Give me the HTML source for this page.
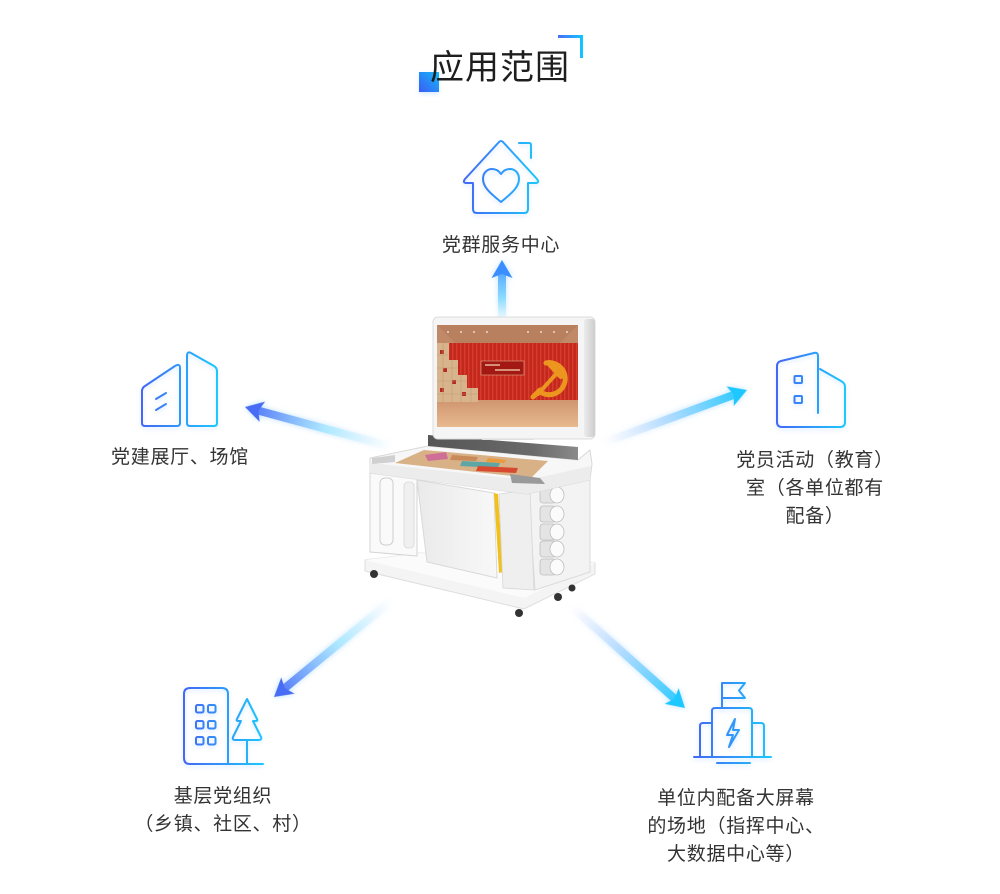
<!DOCTYPE html>
<html><head><meta charset="utf-8">
<style>
html,body{margin:0;padding:0;background:#fff;}
#wrap{position:relative;width:1000px;height:894px;overflow:hidden;background:#fff;}
svg{position:absolute;left:0;top:0;}
.t{position:absolute;font-family:"Liberation Sans","Noto Sans CJK SC",sans-serif;color:#333;font-size:19px;line-height:28px;letter-spacing:0.7px;text-align:center;width:300px;white-space:nowrap;}
.title{position:absolute;left:0;width:1000px;top:51px;text-align:center;font-family:"Liberation Sans","Noto Sans CJK SC",sans-serif;font-size:34px;line-height:34px;color:#1e1e1e;letter-spacing:1px;}
</style></head>
<body><div id="wrap">
<svg width="1000" height="894" viewBox="0 0 1000 894" xmlns="http://www.w3.org/2000/svg">
<defs>
  <linearGradient id="sq" x1="0" y1="1" x2="1" y2="0"><stop offset="0" stop-color="#3a5cf6"/><stop offset="1" stop-color="#16b8f8"/></linearGradient>
  <linearGradient id="br" gradientUnits="userSpaceOnUse" x1="558" y1="0" x2="583" y2="0"><stop offset="0" stop-color="#4a6cf7"/><stop offset="1" stop-color="#12c8ff"/></linearGradient>
  <linearGradient id="gH" gradientUnits="userSpaceOnUse" x1="463" y1="0" x2="539" y2="0"><stop offset="0" stop-color="#4466f6"/><stop offset="1" stop-color="#1cc8fc"/></linearGradient>
  <linearGradient id="gL" gradientUnits="userSpaceOnUse" x1="142" y1="0" x2="217" y2="0"><stop offset="0" stop-color="#4466f6"/><stop offset="1" stop-color="#1cc8fc"/></linearGradient>
  <linearGradient id="gR" gradientUnits="userSpaceOnUse" x1="777" y1="0" x2="845" y2="0"><stop offset="0" stop-color="#4466f6"/><stop offset="1" stop-color="#1cc8fc"/></linearGradient>
  <linearGradient id="gBL" gradientUnits="userSpaceOnUse" x1="184" y1="0" x2="263" y2="0"><stop offset="0" stop-color="#4466f6"/><stop offset="1" stop-color="#1cc8fc"/></linearGradient>
  <linearGradient id="gBR" gradientUnits="userSpaceOnUse" x1="694" y1="0" x2="771" y2="0"><stop offset="0" stop-color="#4466f6"/><stop offset="1" stop-color="#1cc8fc"/></linearGradient>

  <linearGradient id="aUp" gradientUnits="userSpaceOnUse" x1="-64" y1="0" x2="0" y2="0"><stop offset="0" stop-color="#c8f0ff" stop-opacity="0"/><stop offset="0.4" stop-color="#7fd8ff" stop-opacity="0.85"/><stop offset="1" stop-color="#3a8eff"/></linearGradient>
  <linearGradient id="aB" gradientUnits="userSpaceOnUse" x1="-152" y1="0" x2="0" y2="0"><stop offset="0" stop-color="#d8f6ff" stop-opacity="0"/><stop offset="0.45" stop-color="#a6e8ff" stop-opacity="0.85"/><stop offset="1" stop-color="#4a6cf7"/></linearGradient>
  <linearGradient id="aC" gradientUnits="userSpaceOnUse" x1="-152" y1="0" x2="0" y2="0"><stop offset="0" stop-color="#dfe4ff" stop-opacity="0"/><stop offset="0.45" stop-color="#a8d8ff" stop-opacity="0.85"/><stop offset="1" stop-color="#1ec8ff"/></linearGradient>

  <filter id="glow" x="-50%" y="-50%" width="200%" height="200%"><feDropShadow dx="0" dy="0" stdDeviation="3" flood-color="#5ab4ff" flood-opacity="0.4"/></filter>
  <filter id="ish" x="-30%" y="-30%" width="160%" height="160%"><feDropShadow dx="0" dy="2" stdDeviation="2" flood-color="#7ab8ff" flood-opacity="0.3"/></filter>

  <linearGradient id="bar" x1="0" y1="0" x2="1" y2="0"><stop offset="0" stop-color="#555"/><stop offset="0.7" stop-color="#6a6a6a"/><stop offset="1" stop-color="#8a8a8a"/></linearGradient>
  <linearGradient id="floor" x1="0" y1="0" x2="0" y2="1"><stop offset="0" stop-color="#cf9670"/><stop offset="1" stop-color="#e8b98e"/></linearGradient>
  <linearGradient id="panel" x1="0" y1="0" x2="1" y2="0"><stop offset="0" stop-color="#eaeaea"/><stop offset="1" stop-color="#f8f8f8"/></linearGradient>
  <linearGradient id="mon" x1="0" y1="0" x2="1" y2="0"><stop offset="0" stop-color="#ebebeb"/><stop offset="1" stop-color="#cdcdcd"/></linearGradient>
  <pattern id="cur" width="4" height="10" patternUnits="userSpaceOnUse"><rect width="4" height="10" fill="#c3271d"/><rect width="1.5" height="10" fill="#d63c2c"/></pattern>
</defs>

<!-- title decorations -->
<rect x="419" y="72" width="20" height="20" fill="url(#sq)" filter="url(#ish)"/>
<path d="M558,36.5 L581.5,36.5 L581.5,58" fill="none" stroke="url(#br)" stroke-width="3"/>

<!-- arrows -->
<g transform="translate(502,260) rotate(-90)" filter="url(#glow)">
  <rect x="-64" y="-4" width="52" height="8" fill="url(#aUp)"/>
  <polygon points="0,0 -18,-10.5 -14,0 -18,10.5" fill="#3a8eff"/>
</g>
<g transform="translate(245,407) rotate(195.2)" filter="url(#glow)">
  <rect x="-152" y="-4" width="140" height="8" fill="url(#aB)"/>
  <polygon points="0,0 -18,-10.5 -14,0 -18,10.5" fill="#4a6cf7"/>
</g>
<g transform="translate(747,390) rotate(-20.2)" filter="url(#glow)">
  <rect x="-152" y="-4" width="140" height="8" fill="url(#aC)"/>
  <polygon points="0,0 -18,-10.5 -14,0 -18,10.5" fill="#1ec8ff"/>
</g>
<g transform="translate(274,697) rotate(140.6)" filter="url(#glow)">
  <rect x="-152" y="-4" width="140" height="8" fill="url(#aB)"/>
  <polygon points="0,0 -18,-10.5 -14,0 -18,10.5" fill="#4a6cf7"/>
</g>
<g transform="translate(685,708) rotate(41.8)" filter="url(#glow)">
  <rect x="-152" y="-4" width="140" height="8" fill="url(#aC)"/>
  <polygon points="0,0 -18,-10.5 -14,0 -18,10.5" fill="#1ec8ff"/>
</g>

<!-- house icon -->
<g fill="none" stroke="url(#gH)" stroke-width="2" stroke-linejoin="round" stroke-linecap="round" filter="url(#ish)">
  <path d="M473,183 L473,209 Q473,213 477,213 L524,213 Q528,213 528,209 L528,183 L535,183 Q540,183 537,179 L503,142 Q501,140 499,142 L465,179 Q462,183 467,183 Z"/>
  <path d="M519,143 L529,143 Q531,143 531,145 L531,158"/>
  <path d="M501,202 C490,193 483,187 483,179 C483,172 488,169 492,169 C496,169 499,171 501,174 C503,171 506,169 510,169 C514,169 519,172 519,179 C519,187 512,193 501,202 Z"/>
</g>

<!-- left icon -->
<g fill="none" stroke="url(#gL)" stroke-width="2" stroke-linejoin="round" stroke-linecap="round" filter="url(#ish)">
  <path d="M145,426 Q142,426 142,423 L142,391 Q142,388 145,386 L175,366 Q180,363 180,368 L180,423 Q180,426 177,426 Z"/>
  <path d="M190,426 Q187,426 187,423 L187,356 Q187,351 191,353 L214,366 Q217,368 217,371 L217,423 Q217,426 214,426 Z"/>
  <path d="M156,399 L166,393 M156,410 L166,404"/>
</g>

<!-- right icon -->
<g fill="none" stroke="url(#gR)" stroke-width="2" stroke-linejoin="round" stroke-linecap="round" filter="url(#ish)">
  <path d="M818,413 L818,356 Q818,352 814,353 L781,361 Q777,362 777,366 L777,422 Q777,427 782,427 L840,427 Q845,427 845,422 L845,387 Q845,383 841,381 L820,369"/>
  <rect x="794.5" y="376" width="7.5" height="7" rx="1"/>
  <rect x="794.5" y="396" width="7.5" height="7" rx="1"/>
</g>

<!-- bottom-left icon -->
<g fill="none" stroke="url(#gBL)" stroke-width="2" stroke-linejoin="round" stroke-linecap="round" filter="url(#ish)">
  <path d="M228,764 L190,764 Q184,764 184,758 L184,694 Q184,688 190,688 L222,688 Q228,688 228,694 L228,764 L263,764"/>
  <rect x="196" y="705" width="7.5" height="7.5" rx="1.5"/>
  <rect x="208" y="705" width="7.5" height="7.5" rx="1.5"/>
  <rect x="196" y="721" width="7.5" height="7.5" rx="1.5"/>
  <rect x="208" y="721" width="7.5" height="7.5" rx="1.5"/>
  <rect x="196" y="737" width="7.5" height="7.5" rx="1.5"/>
  <rect x="208" y="737" width="7.5" height="7.5" rx="1.5"/>
  <path d="M247,699 L237,719 Q236,721 238,721 L241,721 L233,737 Q232,740 235,740 L259,740 Q262,740 261,737 L253,721 L256,721 Q258,721 257,719 Z"/>
  <path d="M247,740 L247,764"/>
</g>

<!-- bottom-right icon -->
<g fill="none" stroke="url(#gBR)" stroke-width="2" stroke-linejoin="round" stroke-linecap="round" filter="url(#ish)">
  <path d="M722,708 L722,683 L745,683 L739,690.5 L745,698 L722,698"/>
  <path d="M712,757 L712,711 Q712,708 715,708 L749,708 Q752,708 752,711 L752,757"/>
  <path d="M712,723 L703,723 Q700,723 700,726 L700,757"/>
  <path d="M752,723 L761,723 Q764,723 764,726 L764,757"/>
  <path d="M694,757 L771,757"/>
  <path d="M717,763 L750,763"/>
  <path d="M735,719 L727,735 L733,735 L729,747 L739,730 L733,730 Z"/>
</g>

<!-- kiosk -->
<g>
  <polygon points="365,560 420,553 595,563 595,574 524,609 365,571" fill="#f4f4f4" stroke="#dedede" stroke-width="1"/>
  <polygon points="365,560 420,553 595,563 524,598" fill="#fbfbfb"/>
  <circle cx="374" cy="574" r="4" fill="#333"/>
  <circle cx="519" cy="613" r="4" fill="#333"/>
  <circle cx="558" cy="597" r="4" fill="#333"/>
  <circle cx="572" cy="588" r="3.5" fill="#333"/>
  <polygon points="528,488 590,480 590,572 535,590" fill="#f3f3f3" stroke="#dadada" stroke-width="1"/>
  <polygon points="370,472 417,478 417,556 370,552" fill="#fafafa" stroke="#d4d4d4" stroke-width="1"/>
  <rect x="380" y="478" width="13" height="67" rx="5" fill="none" stroke="#cfcfcf" stroke-width="1"/>
  <rect x="404" y="482" width="10" height="66" rx="4" fill="#f0f0f0" stroke="#d8d8d8" stroke-width="0.8"/>
  <polygon points="417,480 494,493 497,578 427,562" fill="url(#panel)" stroke="#d8d8d8" stroke-width="1"/>
  <polygon points="494,493 498,494 503,572 499,573" fill="#f2c01a"/>
  <polygon points="499,494 530,490 534,590 503,588" fill="#efefef" stroke="#d6d6d6" stroke-width="0.8"/>
  <g stroke="#bdbdbd" stroke-width="0.8">
    <rect x="540" y="487" width="16" height="16" rx="3" fill="#e4e4e4"/><ellipse cx="557" cy="495" rx="7" ry="8" fill="#fbfbfb"/>
    <rect x="540" y="506" width="16" height="16" rx="3" fill="#e4e4e4"/><ellipse cx="557" cy="514" rx="7" ry="8" fill="#fbfbfb"/>
    <rect x="540" y="524" width="16" height="16" rx="3" fill="#e4e4e4"/><ellipse cx="557" cy="532" rx="7" ry="8" fill="#fbfbfb"/>
    <rect x="540" y="541" width="16" height="16" rx="3" fill="#e4e4e4"/><ellipse cx="557" cy="549" rx="7" ry="8" fill="#fbfbfb"/>
    <rect x="540" y="559" width="16" height="16" rx="3" fill="#e4e4e4"/><ellipse cx="557" cy="567" rx="7" ry="8" fill="#fbfbfb"/>
  </g>
  <polygon points="370,458 428,446 578,460 590,450 592,464 590,480 527,494 370,473" fill="#f7f7f7" stroke="#d8d8d8" stroke-width="1"/>
  <polygon points="370,463 528,480 591,466 590,480 527,494 370,473" fill="#ececec"/>
  <polygon points="395,463 424,450 548,461 531,478" fill="#d9b187"/>
  <polygon points="425,455 446,452 448,459 428,461" fill="#cf6f98"/>
  <polygon points="452,455 478,457 476,461 450,460" fill="#c98a5a"/>
  <polygon points="462,461 500,463 498,468 460,466" fill="#5ea5a6"/>
  <polygon points="478,466 518,468 516,473 476,471" fill="#d84a30"/>
  <polygon points="488,458 506,460 504,463 486,462" fill="#e99a3a"/>
  <polygon points="510,474 540,478 545,484 512,483" fill="#9a9a9a"/>
  <polygon points="372,458 395,455 395,462 372,464" fill="#d0d0d0"/>
  <polygon points="428,435 578,447 578,460 428,446" fill="url(#bar)"/>
  <rect x="482" y="426" width="52" height="14" fill="#e4e4e4"/>
  <rect x="433" y="317" width="162" height="122" rx="5" fill="#f5f5f5" stroke="#dcdcdc" stroke-width="1"/>
  <rect x="584" y="319" width="11" height="118" rx="3" fill="url(#mon)"/>
  <rect x="437" y="325" width="141" height="102" fill="#c3271d"/>
  <rect x="437" y="325" width="141" height="18" fill="#c08a68"/>
  <polygon points="437,325 578,325 560,343 455,343" fill="#b98060"/>
  <rect x="437" y="343" width="141" height="57" fill="url(#cur)"/>
  <rect x="437" y="400" width="141" height="27" fill="url(#floor)"/>
  <g fill="#fff" opacity="0.9">
    <circle cx="448" cy="332" r="0.9"/><circle cx="461" cy="332" r="0.9"/><circle cx="474" cy="332" r="0.9"/><circle cx="487" cy="332" r="0.9"/>
    <circle cx="528" cy="332" r="0.9"/><circle cx="541" cy="332" r="0.9"/><circle cx="554" cy="332" r="0.9"/><circle cx="567" cy="332" r="0.9"/>
  </g>
  <polygon points="437,343 449,343 449,360 458,360 458,375 467,375 467,388 478,388 478,402 437,402" fill="#d7b48c"/>
  <g fill="#b52a1e">
    <rect x="440" y="350" width="4" height="4"/><rect x="443" y="368" width="4" height="4"/><rect x="452" y="380" width="4" height="4"/><rect x="462" y="392" width="4" height="4"/><rect x="440" y="388" width="4" height="4"/>
  </g>
  <g stroke="#c49b72" stroke-width="0.6" fill="none">
    <path d="M437,355 H449 M437,368 H458 M437,381 H467 M437,394 H478 M443,343 V402 M452,360 V402 M461,375 V402 M471,388 V402"/>
  </g>
  <rect x="481" y="361" width="43" height="14" fill="#a31812" stroke="#e6c4a0" stroke-width="0.5"/>
  <path d="M485,365 H500 M495,370 H520" stroke="#f3d9b5" stroke-width="1.2"/>
  <g stroke="#ec951f" fill="none" stroke-linecap="round">
    <path d="M546,363 A16,16 0 1 1 539,391" stroke-width="5"/>
    <path d="M540,390 L533,397" stroke-width="5"/>
    <path d="M538,394 L557,373" stroke-width="4"/>
    <path d="M549,363 L561,376" stroke-width="6"/>
  </g>
</g>
</svg>

<div class="title">应用范围</div>
<div class="t" style="left:351px;top:232px;">党群服务中心</div>
<div class="t" style="left:30px;top:444px;">党建展厅、场馆</div>
<div class="t" style="left:665px;top:447px;">党员活动（教育）<br>室（各单位都有<br>配备）</div>
<div class="t" style="left:73px;top:783px;">基层党组织<br>（乡镇、社区、村）</div>
<div class="t" style="left:586px;top:785px;">单位内配备大屏幕<br>的场地（指挥中心、<br>大数据中心等）</div>
</div></body></html>
